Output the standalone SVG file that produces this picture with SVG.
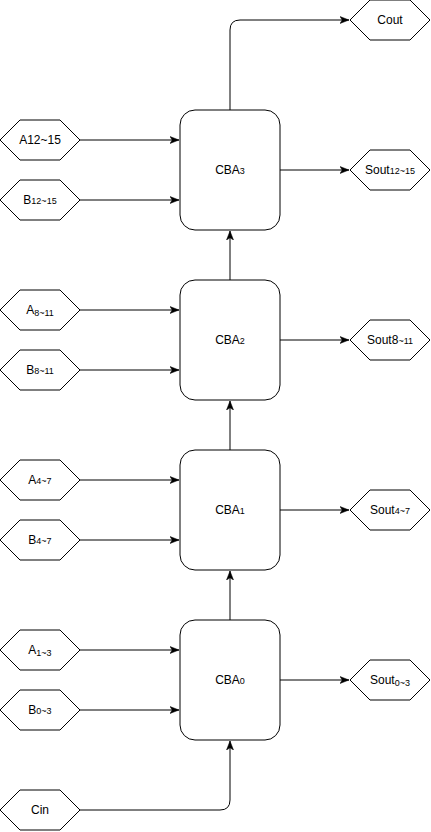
<svg xmlns="http://www.w3.org/2000/svg" width="431" height="832" viewBox="0 0 431 832">
<style>
.box{fill:#fff;stroke:#000;stroke-width:1}
.hex{fill:#fff;stroke:#000;stroke-width:1}
.t{font-family:"Liberation Sans",Arial,Helvetica,sans-serif;font-size:12px;fill:#000;text-anchor:middle}
.s{font-size:9px}
.c{fill:none;stroke:#000;stroke-width:1}
</style>
<defs>
<marker id="arr" markerUnits="userSpaceOnUse" markerWidth="10" markerHeight="8" refX="9" refY="4" orient="auto">
<path d="M0,0.5 L9,4 L0,7.5 L2.2,4 z" fill="#000" stroke="#000" stroke-width="0.5"/>
</marker>
<polygon id="hx" points="0,20 20,0 60,0 80,20 60,40 20,40"/>
</defs>
<rect width="431" height="832" fill="#fff"/>
<g id="connectors">
<path class="c" d="M80,140 H179" marker-end="url(#arr)"/>
<path class="c" d="M80,200 H179" marker-end="url(#arr)"/>
<path class="c" d="M80,310 H179" marker-end="url(#arr)"/>
<path class="c" d="M80,370 H179" marker-end="url(#arr)"/>
<path class="c" d="M80,480 H179" marker-end="url(#arr)"/>
<path class="c" d="M80,540 H179" marker-end="url(#arr)"/>
<path class="c" d="M80,650 H179" marker-end="url(#arr)"/>
<path class="c" d="M80,710 H179" marker-end="url(#arr)"/>
<path class="c" d="M280,170 H349" marker-end="url(#arr)"/>
<path class="c" d="M280,340 H349" marker-end="url(#arr)"/>
<path class="c" d="M280,510 H349" marker-end="url(#arr)"/>
<path class="c" d="M280,680 H349" marker-end="url(#arr)"/>
<path class="c" d="M230,620 V571" marker-end="url(#arr)"/>
<path class="c" d="M230,450 V401" marker-end="url(#arr)"/>
<path class="c" d="M230,280 V231" marker-end="url(#arr)"/>
<path class="c" d="M230,110 V30 Q230,20 240,20 H349" marker-end="url(#arr)"/>
<path class="c" d="M80,810 H220 Q230,810 230,800 V741" marker-end="url(#arr)"/>
</g>
<g id="CBA3"><rect class="box" x="180" y="110" width="100" height="120" rx="15"/><text class="t" x="230" y="174">CBA<tspan class="s">3</tspan></text></g>
<g id="CBA2"><rect class="box" x="180" y="280" width="100" height="120" rx="15"/><text class="t" x="230" y="344">CBA<tspan class="s">2</tspan></text></g>
<g id="CBA1"><rect class="box" x="180" y="450" width="100" height="120" rx="15"/><text class="t" x="230" y="514">CBA<tspan class="s">1</tspan></text></g>
<g id="CBA0"><rect class="box" x="180" y="620" width="100" height="120" rx="15"/><text class="t" x="230" y="684">CBA<tspan class="s">0</tspan></text></g>
<g id="A12"><use href="#hx" class="hex" x="0" y="120"/><text class="t" x="40" y="144">A12~15</text></g>
<g id="B12"><use href="#hx" class="hex" x="0" y="180"/><text class="t" x="40" y="204">B<tspan class="s">12~15</tspan></text></g>
<g id="A8"><use href="#hx" class="hex" x="0" y="290"/><text class="t" x="40" y="314">A<tspan class="s" dy="2">8~11</tspan></text></g>
<g id="B8"><use href="#hx" class="hex" x="0" y="350"/><text class="t" x="40" y="374">B<tspan class="s">8~11</tspan></text></g>
<g id="A4"><use href="#hx" class="hex" x="0" y="460"/><text class="t" x="40" y="484">A<tspan class="s">4~7</tspan></text></g>
<g id="B4"><use href="#hx" class="hex" x="0" y="520"/><text class="t" x="40" y="544">B<tspan class="s">4~7</tspan></text></g>
<g id="A1"><use href="#hx" class="hex" x="0" y="630"/><text class="t" x="40" y="654">A<tspan class="s" dy="2">1~3</tspan></text></g>
<g id="B0"><use href="#hx" class="hex" x="0" y="690"/><text class="t" x="40" y="714">B<tspan class="s">0~3</tspan></text></g>
<g id="Cin"><use href="#hx" class="hex" x="0" y="790"/><text class="t" x="40" y="814">Cin</text></g>
<g id="Cout"><use href="#hx" class="hex" x="350" y="0"/><text class="t" x="390" y="24">Cout</text></g>
<g id="Sout12"><use href="#hx" class="hex" x="350" y="150"/><text class="t" x="390" y="174">Sout<tspan class="s">12~15</tspan></text></g>
<g id="Sout8"><use href="#hx" class="hex" x="350" y="320"/><text class="t" x="390" y="344">Sout8<tspan class="s">~11</tspan></text></g>
<g id="Sout4"><use href="#hx" class="hex" x="350" y="490"/><text class="t" x="390" y="514">Sout<tspan class="s">4~7</tspan></text></g>
<g id="Sout0"><use href="#hx" class="hex" x="350" y="660"/><text class="t" x="390" y="684">Sout<tspan class="s" dy="2">0~3</tspan></text></g>
</svg>
